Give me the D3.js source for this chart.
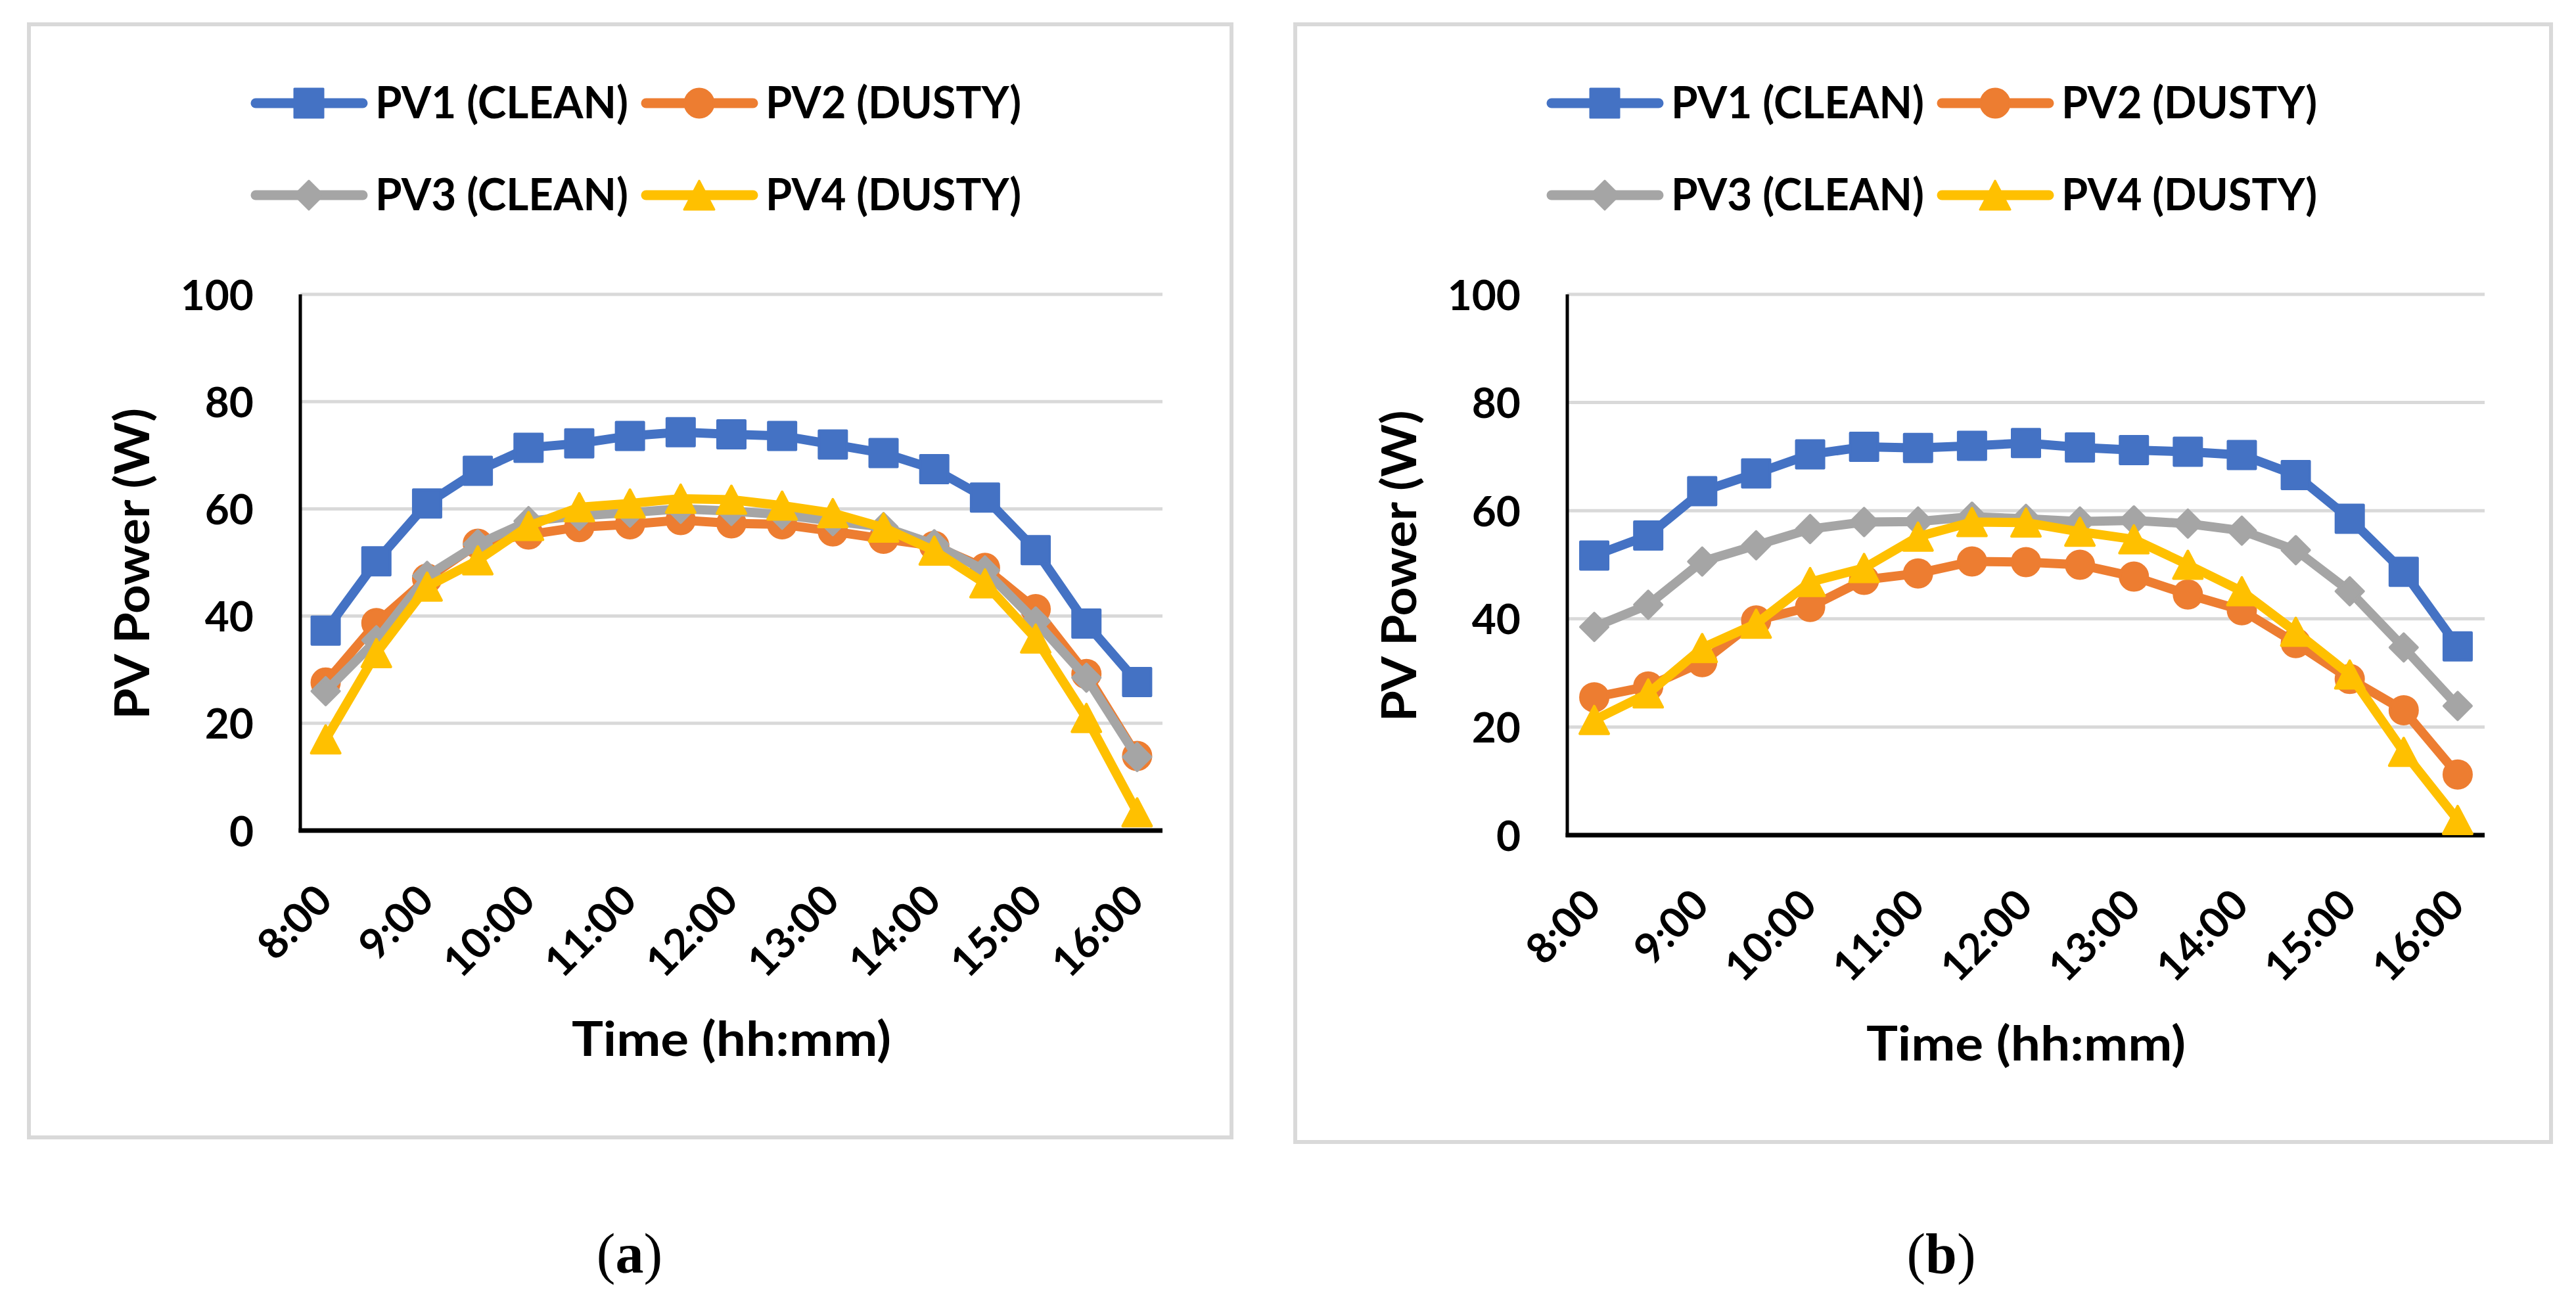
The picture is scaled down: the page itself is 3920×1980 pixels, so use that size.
<!DOCTYPE html>
<html>
<head>
<meta charset="utf-8">
<script src="https://cdn.jsdelivr.net/npm/d3@7"></script>
<style>
  html, body { margin: 0; padding: 0; background: #fff; }
  svg { display: block; }
</style>
</head>
<body>
<svg id="chart" width="3920" height="1980"></svg>
<script>
// ---------------- DATA ----------------
const times = ["8:00","8:30","9:00","9:30","10:00","10:30","11:00","11:30","12:00",
               "12:30","13:00","13:30","14:00","14:30","15:00","15:30","16:00"];
const timeTickLabels = ["8:00","9:00","10:00","11:00","12:00","13:00","14:00","15:00","16:00"];
const yTicks = [0, 20, 40, 60, 80, 100];
const seriesNames = ["PV1 (CLEAN)", "PV2 (DUSTY)", "PV3 (CLEAN)", "PV4 (DUSTY)"];
const seriesColors = ["#4472C4", "#ED7D31", "#A5A5A5", "#FFC000"];
const seriesMarkers = ["square", "circle", "diamond", "triangle"];

// Panel (a)
const a_pv1 = [37.3, 50.2, 61.0, 67.1, 71.4, 72.2, 73.6, 74.3, 73.9, 73.6, 72.0, 70.4, 67.4, 62.1, 52.3, 38.6, 27.7];
const a_pv2 = [27.6, 38.7, 47.0, 53.5, 55.2, 56.6, 57.1, 57.9, 57.3, 57.1, 55.8, 54.4, 53.1, 49.0, 41.3, 29.2, 13.9];
const a_pv3 = [26.0, 35.5, 47.5, 53.4, 57.7, 58.7, 59.3, 60.0, 59.6, 58.9, 57.7, 56.6, 53.4, 48.5, 39.0, 28.5, 13.7];
const a_pv4 = [17.0, 33.1, 45.5, 50.4, 56.8, 60.3, 61.0, 61.9, 61.7, 60.6, 59.2, 56.5, 52.2, 46.1, 35.8, 21.0, 3.4];

// Panel (b)
const b_pv1 = [51.7, 55.4, 63.6, 66.9, 70.4, 71.8, 71.6, 72.0, 72.5, 71.7, 71.2, 70.9, 70.3, 66.6, 58.5, 48.7, 34.9];
const b_pv2 = [25.5, 27.5, 32.0, 39.7, 42.2, 47.2, 48.4, 50.6, 50.5, 50.0, 47.8, 44.5, 41.6, 35.5, 28.9, 23.1, 11.2];
const b_pv3 = [38.5, 42.6, 50.6, 53.6, 56.6, 57.9, 58.0, 58.9, 58.5, 58.0, 58.2, 57.6, 56.3, 52.7, 45.1, 34.7, 23.9];
const b_pv4 = [21.3, 26.2, 34.6, 39.1, 46.8, 49.4, 55.2, 57.9, 57.8, 56.1, 54.7, 50.0, 45.1, 37.6, 29.7, 15.4, 2.8];

const yTitle = "PV Power (W)";
const xTitle = "Time (hh:mm)";

// ---------------- LAYOUT ----------------
const panels = [
  { series: [a_pv1, a_pv2, a_pv3, a_pv4], caption: "a",
    frame: {x0: 44, y0: 37, x1: 1874, y1: 1731},
    plot: {x0: 457, x1: 1769, yTop: 448, yBot: 1264},
    legendX: 382, captionX: 958 },
  { series: [b_pv1, b_pv2, b_pv3, b_pv4], caption: "b",
    frame: {x0: 1971, y0: 37, x1: 3882, y1: 1738},
    plot: {x0: 2385, x1: 3781, yTop: 448, yBot: 1271},
    legendX: 2354, captionX: 2954 }
];

const FONT = "Lato, 'Open Sans', 'DejaVu Sans', sans-serif";
const MS = 46;          // marker size
const LINE_W = 14;

function markerPath(type, s) {
  const h = s / 2;
  const p = d3.path();
  if (type === "square") {
    p.rect(-h, -h, s, s);
  } else if (type === "circle") {
    p.arc(0, 0, h, 0, 2 * Math.PI);
  } else if (type === "diamond") {
    p.moveTo(0, -h); p.lineTo(h, 0); p.lineTo(0, h); p.lineTo(-h, 0); p.closePath();
  } else {
    p.moveTo(0, -h); p.lineTo(h + 1, h); p.lineTo(-h - 1, h); p.closePath();
  }
  return p.toString();
}

const svg = d3.select("#chart");

panels.forEach(pn => {
  const g = svg.append("g");
  const f = pn.frame, P = pn.plot;

  // frame
  g.append("rect")
    .attr("x", f.x0).attr("y", f.y0)
    .attr("width", f.x1 - f.x0).attr("height", f.y1 - f.y0)
    .attr("fill", "#fff").attr("stroke", "#d9d9d9").attr("stroke-width", 6);

  const x = d3.scalePoint().domain(times).range([P.x0, P.x1]).padding(0.5);
  const y = d3.scaleLinear().domain([0, 100]).range([P.yBot, P.yTop]);

  // gridlines
  g.append("g").selectAll("line").data(yTicks.filter(t => t > 0)).join("line")
    .attr("x1", P.x0).attr("x2", P.x1)
    .attr("y1", d => y(d)).attr("y2", d => y(d))
    .attr("stroke", "#d9d9d9").attr("stroke-width", 5);

  // y axis labels
  const yAx = g.append("g").attr("transform", `translate(${P.x0},0)`)
    .call(d3.axisLeft(y).tickValues(yTicks).tickSize(0).tickPadding(P.x0 - 386 - (pn.caption === "b" ? 0 : 0)));
  yAx.select(".domain").remove();
  yAx.selectAll("text")
    .attr("font-family", FONT).attr("font-weight", 700).attr("font-size", 64)
    .attr("fill", "#000").attr("x", -71).attr("dy", "0.36em");

  // x axis labels
  const xAx = g.append("g").attr("transform", `translate(0,${P.yBot})`)
    .call(d3.axisBottom(x).tickValues(timeTickLabels).tickSize(0));
  xAx.select(".domain").remove();
  xAx.selectAll("text")
    .attr("font-family", FONT).attr("font-weight", 700).attr("font-size", 64)
    .attr("fill", "#000")
    .attr("x", 0).attr("y", 0).attr("dy", 0)
    .attr("text-anchor", "end")
    .attr("transform", "translate(13,110) rotate(-45)");

  // axis lines
  g.append("line").attr("x1", P.x0).attr("x2", P.x0).attr("y1", P.yTop).attr("y2", P.yBot + 3)
    .attr("stroke", "#000").attr("stroke-width", 5);
  g.append("line").attr("x1", P.x0 - 2.5).attr("x2", P.x1).attr("y1", P.yBot).attr("y2", P.yBot)
    .attr("stroke", "#000").attr("stroke-width", 7);

  // series
  const lineGen = d3.line().x((d, i) => x(times[i])).y(d => y(d));
  pn.series.forEach((vals, si) => {
    const sg = g.append("g");
    sg.append("path").datum(vals).attr("d", lineGen)
      .attr("fill", "none").attr("stroke", seriesColors[si]).attr("stroke-width", LINE_W)
      .attr("stroke-linejoin", "round").attr("stroke-linecap", "round");
    sg.selectAll("path.m").data(vals).join("path").attr("class", "m")
      .attr("transform", (d, i) => `translate(${x(times[i])},${y(d)})`)
      .attr("d", markerPath(seriesMarkers[si], MS - 4))
      .attr("fill", seriesColors[si]).attr("stroke", seriesColors[si])
      .attr("stroke-width", 4).attr("stroke-linejoin", "round");
  });

  // legend
  const legRows = [157, 297];
  seriesNames.forEach((name, si) => {
    const col = si % 2, row = Math.floor(si / 2);
    const lx = pn.legendX + col * 594;
    const ly = legRows[row];
    const lg = g.append("g");
    lg.append("line").attr("x1", lx + 7).attr("x2", lx + 170).attr("y1", ly).attr("y2", ly)
      .attr("stroke", seriesColors[si]).attr("stroke-width", 15).attr("stroke-linecap", "round");
    lg.append("path").attr("transform", `translate(${lx + 88},${ly})`)
      .attr("d", markerPath(seriesMarkers[si], MS - 2))
      .attr("fill", seriesColors[si]).attr("stroke", seriesColors[si])
      .attr("stroke-width", 3).attr("stroke-linejoin", "round");
    lg.append("text").attr("x", lx + 189).attr("y", ly + 23)
      .attr("font-family", FONT).attr("font-weight", 700).attr("font-size", 67)
      .attr("textLength", si % 2 === 0 ? 385 : 389).attr("lengthAdjust", "spacingAndGlyphs")
      .attr("fill", "#000").text(name);
  });

  // axis titles
  g.append("text")
    .attr("transform", `translate(${P.x0 - 230},${(P.yTop + P.yBot) / 2 + 2}) rotate(-90)`)
    .attr("text-anchor", "middle")
    .attr("font-family", FONT).attr("font-weight", 700).attr("font-size", 73)
    .attr("textLength", 474).attr("lengthAdjust", "spacingAndGlyphs")
    .attr("fill", "#000").text(yTitle);
  g.append("text")
    .attr("x", (P.x0 + P.x1) / 2).attr("y", P.yBot + 343)
    .attr("text-anchor", "middle")
    .attr("font-family", FONT).attr("font-weight", 700).attr("font-size", 73)
    .attr("textLength", 486).attr("lengthAdjust", "spacingAndGlyphs")
    .attr("fill", "#000").text(xTitle);

  // caption
  const cap = svg.append("text").attr("x", pn.captionX).attr("y", 1937)
    .attr("text-anchor", "middle")
    .attr("font-family", "'Liberation Serif', 'DejaVu Serif', serif").attr("font-size", 86)
    .attr("fill", "#000");
  cap.append("tspan").text("(");
  cap.append("tspan").attr("font-weight", 700).text(pn.caption);
  cap.append("tspan").text(")");
});
</script>
</body>
</html>
